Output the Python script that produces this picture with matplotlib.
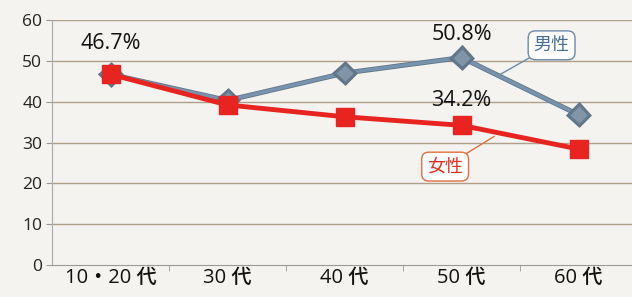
import matplotlib
matplotlib.use("Agg")
import matplotlib.pyplot as plt
import matplotlib.patheffects as pe

plt.rcParams['font.family'] = ['Open Sans', 'Noto Sans CJK JP', 'DejaVu Sans']

categories = ["10・20 代", "30 代", "40 代", "50 代", "60 代"]
male = [46.7, 40.3, 47.0, 50.8, 36.8]
female = [46.7, 39.2, 36.3, 34.2, 28.4]
yticks = [0, 10, 20, 30, 40, 50, 60]

bg = "#f4f3ef"
fig = plt.figure(figsize=(6.32, 2.97), dpi=100, facecolor=bg)
W, H = 632, 297
ax = fig.add_axes([52 / W, 1 - 265 / H, (637 - 52) / W, (265 - 20) / H])
ax.set_facecolor(bg)
x = list(range(len(categories)))
ax.set_xlim(-0.5, 4.5)
ax.set_ylim(0, 60)

for v in yticks[1:]:
    ax.axhline(v, color="#b0a08a", lw=1.0, zorder=1)

ax.plot(x, male, color="#7893ad", lw=2.4, marker="D", markersize=9.5,
        markerfacecolor="#8195a8", markeredgecolor="#64798c", markeredgewidth=1,
        zorder=3, path_effects=[pe.Stroke(linewidth=3.6, foreground="#61768a"), pe.Normal()])
ax.plot(x, female, color="#e82420", lw=3.5, marker="s", markersize=13.5,
        markerfacecolor="#e82420", markeredgecolor="#e82420", zorder=4)

ax.set_yticks(yticks)
ax.set_yticklabels([str(v) for v in yticks], fontsize=12.5, color="#222222")
ax.set_xticks(x)
ax.set_xticklabels(categories, fontsize=14.5, color="#111111", fontweight="medium")
ax.set_xticks([i + 0.5 for i in range(4)], minor=True)
ax.tick_params(axis="x", which="major", length=0, pad=2)
ax.tick_params(axis="x", which="minor", length=4, color="#999999")
ax.tick_params(axis="y", length=4, color="#999999", pad=3)
for s in ["top", "right"]:
    ax.spines[s].set_visible(False)
ax.spines["left"].set_color("#aaaaaa")
ax.spines["bottom"].set_color("#999999")

ax.text(0, 54.2, "46.7%", ha="center", va="center", fontsize=15.5, color="#111111")
ax.text(3, 56.5, "50.8%", ha="center", va="center", fontsize=15.5, color="#111111")
ax.text(3, 40.3, "34.2%", ha="center", va="center", fontsize=15.5, color="#111111")

ax.annotate("男性", xy=(3.32, 46.5), xytext=(3.77, 53.8), ha="center", va="center",
            fontsize=13, color="#4a6f94",
            bbox=dict(boxstyle="round,pad=0.3,rounding_size=0.4", fc="white", ec="#6d8aa8", lw=1),
            arrowprops=dict(arrowstyle="-", color="#6d8aa8", lw=1, shrinkA=0, shrinkB=0))
ax.annotate("女性", xy=(3.28, 31.5), xytext=(2.86, 24.1), ha="center", va="center",
            fontsize=13, color="#e0301e",
            bbox=dict(boxstyle="round,pad=0.3,rounding_size=0.4", fc="white", ec="#e07040", lw=1),
            arrowprops=dict(arrowstyle="-", color="#e07040", lw=1, shrinkA=0, shrinkB=0))

fig.savefig("out.png", dpi=100, facecolor=bg)
